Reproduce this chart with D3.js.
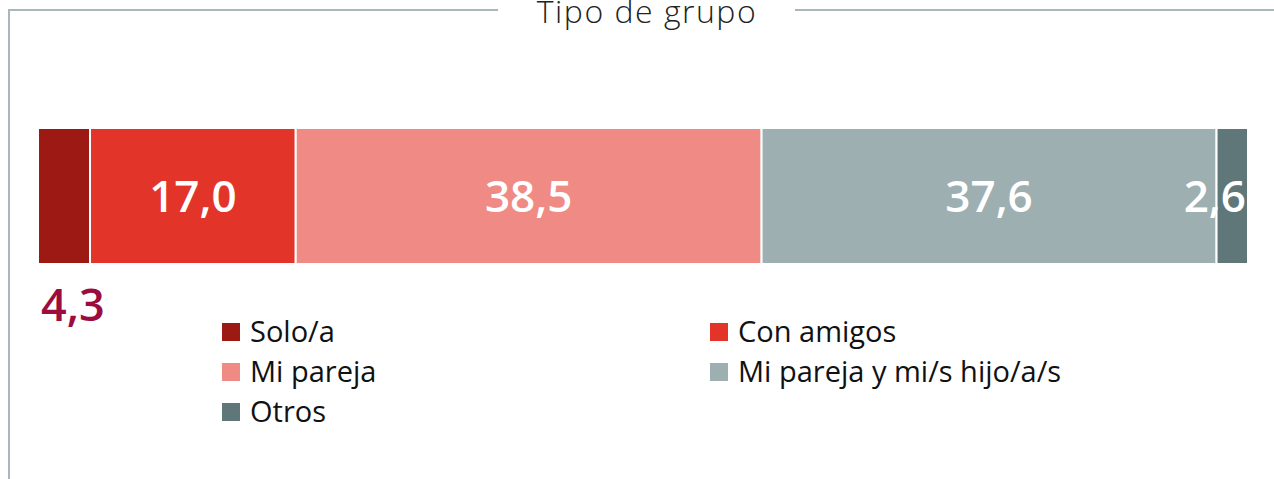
<!DOCTYPE html>
<html>
<head>
<meta charset="utf-8">
<script src="https://cdn.jsdelivr.net/npm/d3@7"></script>
<style>
  body { margin: 0; background: #fff; }
  svg { display: block; font-family: "Open Sans", "Noto Sans", sans-serif; }
</style>
</head>
<body>
<svg id="chart" width="1274" height="479"></svg>
<script>
// data
var categories = ['Solo/a', 'Con amigos', 'Mi pareja', 'Mi pareja y mi/s hijo/a/s', 'Otros'];
var values = [4.3, 17.0, 38.5, 37.6, 2.6];
var colors = ['#9c1a13', '#e3342a', '#f08a84', '#9eafb2', '#5f7778'];
var title = 'Tipo de grupo';

var svg = d3.select('#chart');
var fmt = function(v) { return d3.format('.1f')(v).replace('.', ','); };

// frame
var frameColor = '#a9b7ba';
svg.append('line').attr('x1', 9).attr('x2', 9).attr('y1', 9).attr('y2', 479)
  .attr('stroke', frameColor).attr('stroke-width', 2);
svg.append('line').attr('x1', 8).attr('x2', 498).attr('y1', 10).attr('y2', 10)
  .attr('stroke', frameColor).attr('stroke-width', 2);
svg.append('line').attr('x1', 795).attr('x2', 1274).attr('y1', 10).attr('y2', 10)
  .attr('stroke', frameColor).attr('stroke-width', 2);
svg.append('text').attr('x', 647).attr('y', 23)
  .attr('text-anchor', 'middle')
  .style('font-size', '32px').style('font-weight', 300).style('fill', '#222')
  .style('letter-spacing', '1.5px')
  .text(title);

// stacked bar
var x = d3.scaleLinear().domain([0, d3.sum(values)]).range([38, 1248]);
var stack = [];
var acc = 0;
values.forEach(function(v, i) {
  stack.push({ cat: categories[i], value: v, x0: acc, x1: acc + v, color: colors[i] });
  acc += v;
});

var barTop = 128, barH = 136;
svg.selectAll('rect.seg')
  .data(stack)
  .enter()
  .append('rect')
  .attr('class', 'seg')
  .attr('x', function(d) { return x(d.x0); })
  .attr('y', barTop)
  .attr('width', function(d) { return x(d.x1) - x(d.x0); })
  .attr('height', barH)
  .attr('fill', function(d) { return d.color; })
  .attr('stroke', '#fff')
  .attr('stroke-width', 2);

// labels inside (first one goes below the bar)
svg.selectAll('text.val')
  .data(stack.slice(1))
  .enter()
  .append('text')
  .attr('class', 'val')
  .attr('x', function(d) { return d.value < 4 ? x(d.x1) - 2 : (x(d.x0) + x(d.x1)) / 2; })
  .attr('y', barTop + barH / 2 + 16)
  .attr('text-anchor', function(d) { return d.value < 4 ? 'end' : 'middle'; })
  .style('font-size', '44px').style('font-weight', 600).style('fill', '#fff')
  .text(function(d) { return fmt(d.value); });

svg.append('text')
  .attr('x', x(stack[0].x0) + 3)
  .attr('y', 321)
  .style('font-size', '45px').style('font-weight', 600).style('fill', '#9b0d3e')
  .text(fmt(stack[0].value));

// legend
var legend = svg.selectAll('g.legend')
  .data(stack)
  .enter()
  .append('g')
  .attr('class', 'legend')
  .attr('transform', function(d, i) {
    var col = i % 2, row = Math.floor(i / 2);
    return 'translate(' + (222 + col * 488) + ',' + (332 + row * 40) + ')';
  });
legend.append('rect')
  .attr('x', 0).attr('y', -9).attr('width', 18).attr('height', 18)
  .attr('fill', function(d) { return d.color; });
legend.append('text')
  .attr('x', 28).attr('y', 10)
  .style('font-size', '29px').style('fill', '#111')
  .text(function(d) { return d.cat; });
</script>
</body>
</html>
